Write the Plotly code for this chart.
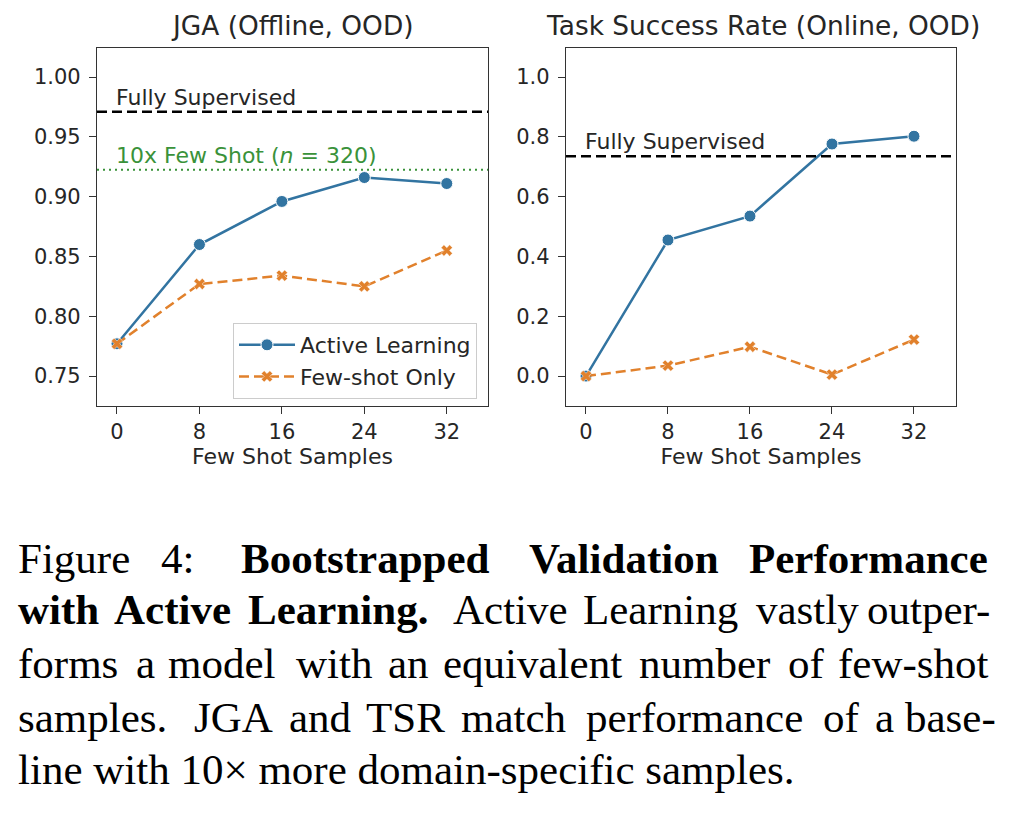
import plotly.graph_objects as go

# data
shots = [0, 8, 16, 24, 32]
jga_active = [0.777, 0.860, 0.896, 0.916, 0.911]
jga_fewshot = [0.777, 0.827, 0.834, 0.825, 0.855]
jga_full_sup = 0.971
jga_10x = 0.9225
tsr_active = [0.0, 0.455, 0.535, 0.776, 0.802]
tsr_fewshot = [0.0, 0.035, 0.098, 0.005, 0.122]
tsr_full_sup = 0.735

jga_ticks = [0.75, 0.80, 0.85, 0.90, 0.95, 1.00]
tsr_ticks = [0.0, 0.2, 0.4, 0.6, 0.8, 1.0]

W, H = 1024, 816
PAGE_PAD = 8  # default body margin of the html page
BLUE = "#3274a1"
ORANGE = "#e1812c"
GREEN = "#3a923a"
INK = "#262626"
SANS = "DejaVu Sans"
SERIF = "Liberation Serif"


def px(x):
    return (x - PAGE_PAD) / W


def py(y):
    return 1 - (y - PAGE_PAD) / H


fig = go.Figure()

# JGA panel
fig.add_scatter(x=shots, y=jga_active, mode="lines+markers", name="Active Learning",
                line=dict(color=BLUE, width=2.5),
                marker=dict(symbol="circle", size=12, color=BLUE, line=dict(color="white", width=1)),
                xaxis="x", yaxis="y")
fig.add_scatter(x=shots, y=jga_fewshot, mode="lines+markers", name="Few-shot Only",
                line=dict(color=ORANGE, width=2.5, dash="10px,5px"),
                marker=dict(symbol="x", size=10, color=ORANGE, line=dict(color="white", width=0.5)),
                xaxis="x", yaxis="y")

# TSR panel
fig.add_scatter(x=shots, y=tsr_active, mode="lines+markers", name="Active Learning",
                line=dict(color=BLUE, width=2.5),
                marker=dict(symbol="circle", size=12, color=BLUE, line=dict(color="white", width=1)),
                xaxis="x2", yaxis="y2", showlegend=False)
fig.add_scatter(x=shots, y=tsr_fewshot, mode="lines+markers", name="Few-shot Only",
                line=dict(color=ORANGE, width=2.5, dash="10px,5px"),
                marker=dict(symbol="x", size=10, color=ORANGE, line=dict(color="white", width=0.5)),
                xaxis="x2", yaxis="y2", showlegend=False)

# reference lines
fig.add_shape(type="line", xref="x domain", yref="y", x0=0, x1=1, y0=jga_full_sup, y1=jga_full_sup,
              line=dict(color="black", width=2.5, dash="10px,5px"))
fig.add_shape(type="line", xref="x domain", yref="y", x0=0, x1=1, y0=jga_10x, y1=jga_10x,
              line=dict(color=GREEN, width=2, dash="2px,4px"))
fig.add_shape(type="line", xref="x2 domain", yref="y2", x0=0, x1=1, y0=tsr_full_sup, y1=tsr_full_sup,
              line=dict(color="black", width=2.5, dash="10px,5px"))

fig.add_annotation(x=0, y=jga_full_sup, xref="x", yref="y", text="Fully Supervised", showarrow=False,
                   xanchor="left", yanchor="bottom", xshift=-3, yshift=0, font=dict(family=SANS, size=22, color=INK))
fig.add_annotation(x=0, y=jga_10x, xref="x", yref="y", text="10x Few Shot (<i>n</i> = 320)", showarrow=False,
                   xanchor="left", yanchor="bottom", xshift=-3, yshift=0, font=dict(family=SANS, size=22, color=GREEN))
fig.add_annotation(x=0, y=tsr_full_sup, xref="x2", yref="y2", text="Fully Supervised", showarrow=False,
                   xanchor="left", yanchor="bottom", xshift=-3, yshift=0, font=dict(family=SANS, size=22, color=INK))

# panel titles
fig.add_annotation(x=px(292), y=py(25), xref="paper", yref="paper", text="JGA (Offline, OOD)",
                   showarrow=False, xanchor="center", yanchor="middle", font=dict(family=SANS, size=26.4, color=INK))
fig.add_annotation(x=px(763), y=py(25), xref="paper", yref="paper", text="Task Success Rate (Online, OOD)",
                   showarrow=False, xanchor="center", yanchor="middle", font=dict(family=SANS, size=26.4, color=INK))

axis_common = dict(showline=True, mirror=True, linecolor="#333333", linewidth=1.3,
                   ticks="outside", ticklen=7, tickwidth=1.3, tickcolor="#333333", automargin=False,
                   showgrid=False, zeroline=False, tickfont=dict(family=SANS, size=21, color=INK))

fig.update_layout(
    width=W, height=H,
    margin=dict(l=0, r=0, t=0, b=0, autoexpand=False),
    paper_bgcolor="white", plot_bgcolor="white",
    xaxis=dict(domain=[px(97), px(488)], range=[-1.94, 36.0], tickvals=shots, anchor="y",
               title=dict(text="Few Shot Samples", font=dict(family=SANS, size=22, color=INK), standoff=4),
               **axis_common),
    yaxis=dict(domain=[py(406), py(48)], range=[0.725, 1.0243], tickvals=jga_ticks, tickformat=".2f",
               anchor="x", ticklabelstandoff=4, **axis_common),
    xaxis2=dict(domain=[px(566), px(956)], range=[-1.95, 36.1], tickvals=shots, anchor="y2",
                title=dict(text="Few Shot Samples", font=dict(family=SANS, size=22, color=INK), standoff=4),
                **axis_common),
    yaxis2=dict(domain=[py(406), py(48)], range=[-0.1, 1.097], tickvals=tsr_ticks, tickformat=".1f",
                anchor="x2", ticklabelstandoff=4, **axis_common),
    legend=dict(x=px(477), y=py(323), xanchor="right", yanchor="top", xref="paper", yref="paper",
                bgcolor="rgba(255,255,255,0.8)", bordercolor="#cccccc", borderwidth=1, itemwidth=56,
                font=dict(family=SANS, size=22, color=INK), tracegroupgap=2),
    showlegend=True,
)

# caption below the figure, justified word by word like the source
caption_lines = [
    (573, [("Figure", 17, False), ("4:", 160, False), ("Bootstrapped", 240, True),
           ("Validation", 528, True), ("Performance", 748, True)]),
    (624, [("with", 17, True), ("Active", 113, True), ("Learning.", 247, True), ("Active", 452, False),
           ("Learning", 582, False), ("vastly", 755, False), ("outper-", 866, False)]),
    (678, [("forms", 17, False), ("a", 135, False), ("model", 167, False), ("with", 295, False),
           ("an", 387, False), ("equivalent", 442, False), ("number", 638, False), ("of", 787, False),
           ("few-shot", 837, False)]),
    (732, [("samples.", 17, False), ("JGA", 193, False), ("and", 288, False), ("TSR", 365, False),
           ("match", 460, False), ("performance", 585, False), ("of", 822, False), ("a", 874, False),
           ("base-", 904, False)]),
    (784, [("line with 10× more domain-specific samples.", 17, False)]),
]
for base, words in caption_lines:
    for word, x0, bold in words:
        fig.add_annotation(x=px(x0 - 1), y=py(base - 15), xref="paper", yref="paper",
                           text=f"<b>{word}</b>" if bold else word, showarrow=False,
                           xanchor="left", yanchor="middle",
                           font=dict(family=SERIF, size=43, color="black"))

fig.write_html("out.html")
